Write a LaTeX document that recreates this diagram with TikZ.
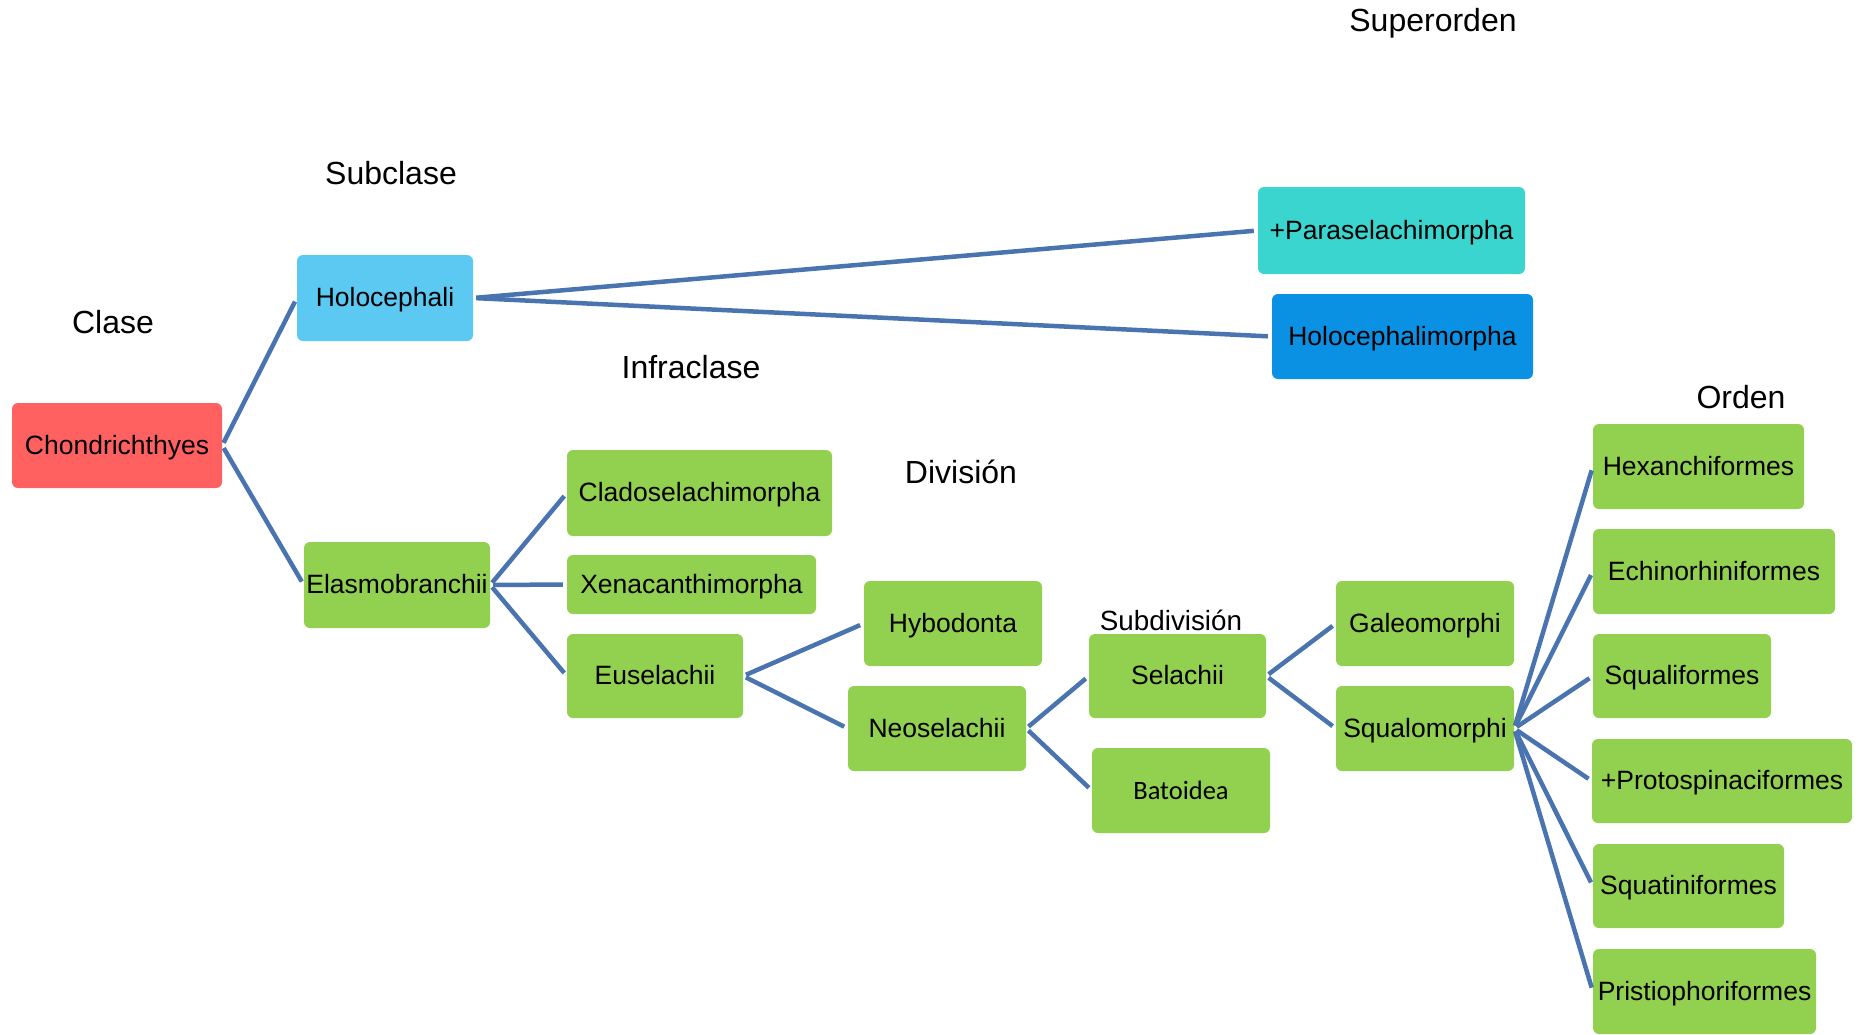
\documentclass[tikz,border=0pt]{standalone}
\usepackage{fontspec}
\setmainfont{Liberation Sans}
\newfontfamily\calfont{Carlito}
\definecolor{redbox}{RGB}{255,96,96}
\definecolor{skybox}{RGB}{92,201,242}
\definecolor{tealbox}{RGB}{58,213,207}
\definecolor{bluebox}{RGB}{10,145,228}
\definecolor{greenbox}{RGB}{146,208,80}
\definecolor{linkcol}{RGB}{74,116,175}
\tikzset{
  taxon/.style={rectangle, rounded corners=6pt, inner sep=0pt, text=black,
    font=\fontsize{26.5}{30}\selectfont, fill=greenbox,
    text height=23.3pt, text depth=5.6pt},
  rank/.style={font=\fontsize{32}{36}\selectfont, text=black},
  link/.style={draw=linkcol, line width=4.5pt, shorten <=3pt, shorten >=4pt}
}
% a green taxon box: name, x, y, width, height, text
\newcommand{\tx}[6]{%
  \node[taxon, minimum width=#4pt, minimum height=#5pt] (#1) at (#2,#3) {#6};}
\begin{document}
\begin{tikzpicture}[x=1pt, y=-1pt]
\useasboundingbox (0,0) rectangle (1871,1034);

% rank headings
\node[rank] (lsup) at (1433,23) {Superorden};
\node[rank] (lsub) at (391,173) {Subclase};
\node[rank] (lcla) at (113,322) {Clase};
\node[rank] (linf) at (691,367) {Infraclase};
\node[rank] (lord) at (1741,397) {Orden};
\node[rank] (ldiv) at (961,472) {División};
\node[rank, font=\fontsize{27.8}{32}\selectfont] (lsdv) at (1171,620) {Subdivisión};

% taxa
\node[taxon, fill=redbox, minimum width=210pt, minimum height=85pt] (ch) at (117,445.5) {Chondrichthyes};
\node[taxon, fill=skybox, minimum width=176pt, minimum height=86pt] (holo) at (385,298) {Holocephali};
\tx{elas}{397}{585}{186}{86}{Elasmobranchii}
\node[taxon, fill=tealbox, minimum width=267pt, minimum height=87pt] (para) at (1391.5,230.5) {+Paraselachimorpha};
\node[taxon, fill=bluebox, minimum width=261pt, minimum height=85pt] (holm) at (1402.5,336.5) {Holocephalimorpha};
\tx{clad}{699.5}{493}{265}{86}{Cladoselachimorpha}
\tx{xena}{691.5}{584.5}{249}{59}{Xenacanthimorpha}
\tx{eus}{655}{676}{176}{84}{Euselachii}
\tx{hyb}{953}{623.5}{178}{85}{Hybodonta}
\tx{neo}{937}{728.5}{178}{85}{Neoselachii}
\tx{sel}{1177.5}{676}{177}{84}{Selachii}
\tx{bat}{1181}{790.5}{178}{85}{{\calfont Batoidea}}
\tx{gal}{1425}{623.5}{178}{85}{Galeomorphi}
\tx{squ}{1425}{728.5}{178}{85}{Squalomorphi}
\tx{hex}{1698.5}{466.5}{211}{85}{Hexanchiformes}
\tx{ech}{1714}{571.5}{242}{85}{Echinorhiniformes}
\tx{sql}{1682}{676}{178}{84}{Squaliformes}
\tx{pro}{1722}{781}{260}{84}{+Protospinaciformes}
\tx{sqt}{1688.5}{886}{191}{84}{Squatiniformes}
\tx{pri}{1704.5}{991.5}{223}{85}{Pristiophoriformes}

% branches
\foreach \a/\b in {ch/holo, ch/elas, holo/para, holo/holm,
  elas/clad, elas/xena, elas/eus, eus/hyb, eus/neo, neo/sel, neo/bat,
  sel/gal, sel/squ, squ/hex, squ/ech, squ/sql, squ/pro, squ/sqt, squ/pri}
  \draw[link] (\a.east) -- (\b.west);
\end{tikzpicture}
\end{document}
